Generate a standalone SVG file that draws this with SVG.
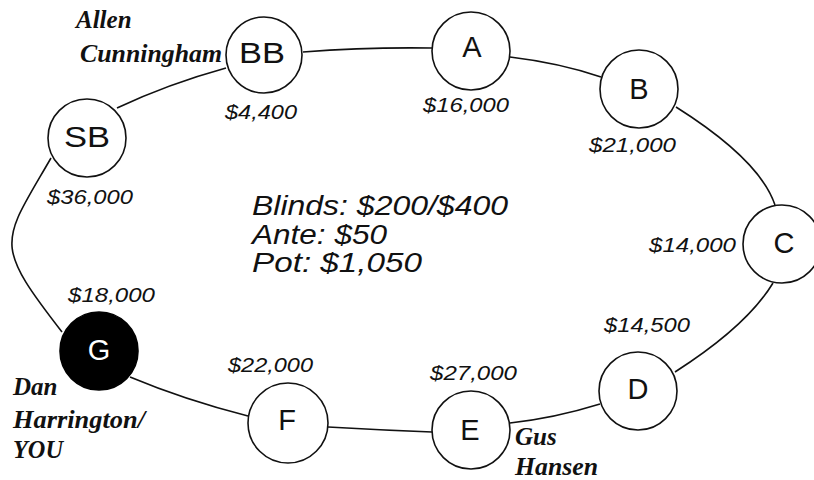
<svg xmlns="http://www.w3.org/2000/svg" width="814" height="480" viewBox="0 0 814 480">
<style>
.edge{fill:none;stroke:#111;stroke-width:1.6}
.seat{fill:#fff;stroke:#111;stroke-width:1.6}
.me{fill:#000;stroke:#000;stroke-width:1.6}
.lt{font-family:"Liberation Sans",Arial,sans-serif;font-size:29px;fill:#111;text-anchor:middle}
.lw{font-family:"Liberation Sans",Arial,sans-serif;font-size:29px;fill:#fff;text-anchor:middle}
.amt{font-family:"Liberation Sans",Arial,sans-serif;font-style:italic;font-size:20px;fill:#111}
.info{font-family:"Liberation Sans",Arial,sans-serif;font-style:italic;font-size:27px;fill:#111}
.name{font-family:"Liberation Serif","Times New Roman",serif;font-style:italic;font-weight:bold;font-size:25px;fill:#111}
</style>
<rect width="814" height="480" fill="#fff"/>
<g id="connectors">
<path class="edge" d="M303,52 Q367,47 432,48"/>
<path class="edge" d="M510,57 Q560,63 601,77"/>
<path class="edge" d="M676,107 Q760,160 775,205"/>
<path class="edge" d="M773,283 Q747,326 675,372"/>
<path class="edge" d="M600,404 Q555,418 510,423"/>
<path class="edge" d="M432,432 Q380,430 328,427"/>
<path class="edge" d="M248,416 Q185,400 130,377"/>
<path class="edge" d="M62,332 C-8,242 2,243 51,158"/>
<path class="edge" d="M117,108 Q168,84 226,68"/>
</g>
<g id="node-BB"><circle class="seat" cx="264" cy="55" r="38"/><text class="lt" x="262" y="63" textLength="46" lengthAdjust="spacingAndGlyphs">BB</text></g>
<g id="node-A"><circle class="seat" cx="471" cy="51" r="39"/><text class="lt" x="472" y="57">A</text></g>
<g id="node-B"><circle class="seat" cx="639" cy="89" r="39"/><text class="lt" x="639" y="99">B</text></g>
<g id="node-C"><circle class="seat" cx="782" cy="244" r="39"/><text class="lt" x="784" y="253">C</text></g>
<g id="node-D"><circle class="seat" cx="638" cy="391" r="39"/><text class="lt" x="638" y="399">D</text></g>
<g id="node-E"><circle class="seat" cx="471" cy="430" r="39"/><text class="lt" x="470" y="440">E</text></g>
<g id="node-F"><circle class="seat" cx="288" cy="423" r="40"/><text class="lt" x="287" y="430">F</text></g>
<g id="node-G"><circle class="me" cx="99" cy="351" r="39"/><text class="lw" x="99" y="360">G</text></g>
<g id="node-SB"><circle class="seat" cx="87" cy="138" r="39"/><text class="lt" x="87" y="147" textLength="46" lengthAdjust="spacingAndGlyphs">SB</text></g>
<g id="stacks">
<text class="amt" x="225" y="119" textLength="72" lengthAdjust="spacingAndGlyphs">$4,400</text>
<text class="amt" x="423" y="112" textLength="86" lengthAdjust="spacingAndGlyphs">$16,000</text>
<text class="amt" x="589" y="152" textLength="87" lengthAdjust="spacingAndGlyphs">$21,000</text>
<text class="amt" x="649" y="252" textLength="87" lengthAdjust="spacingAndGlyphs">$14,000</text>
<text class="amt" x="604" y="332" textLength="86" lengthAdjust="spacingAndGlyphs">$14,500</text>
<text class="amt" x="430" y="380" textLength="87" lengthAdjust="spacingAndGlyphs">$27,000</text>
<text class="amt" x="228" y="372" textLength="85" lengthAdjust="spacingAndGlyphs">$22,000</text>
<text class="amt" x="68" y="302" textLength="87" lengthAdjust="spacingAndGlyphs">$18,000</text>
<text class="amt" x="47" y="204" textLength="86" lengthAdjust="spacingAndGlyphs">$36,000</text>
</g>
<g id="info">
<text class="info" x="252" y="215" textLength="256" lengthAdjust="spacingAndGlyphs">Blinds: $200/$400</text>
<text class="info" x="252" y="244" textLength="135" lengthAdjust="spacingAndGlyphs">Ante: $50</text>
<text class="info" x="252" y="272" textLength="170" lengthAdjust="spacingAndGlyphs">Pot: $1,050</text>
</g>
<g id="names">
<text class="name" x="76" y="28">Allen</text>
<text class="name" x="80" y="62" textLength="142" lengthAdjust="spacingAndGlyphs">Cunningham</text>
<text class="name" x="13" y="395">Dan</text>
<text class="name" x="13" y="428" textLength="132" lengthAdjust="spacingAndGlyphs">Harrington/</text>
<text class="name" x="13" y="458" textLength="50" lengthAdjust="spacingAndGlyphs">YOU</text>
<text class="name" x="515" y="445">Gus</text>
<text class="name" x="515" y="475" textLength="83" lengthAdjust="spacingAndGlyphs">Hansen</text>
</g>
</svg>
